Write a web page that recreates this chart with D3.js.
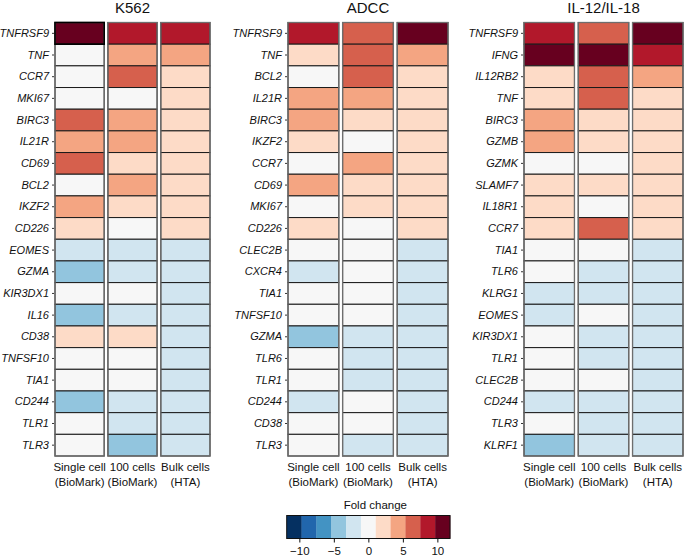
<!DOCTYPE html>
<html><head><meta charset="utf-8">
<script src="https://cdn.jsdelivr.net/npm/d3@7"></script>
<style>body{margin:0;background:#fff}svg{display:block}text{font-family:"Liberation Sans",Arial,sans-serif}</style>
</head><body><svg id="c" width="685" height="557"></svg>
<script>
// ---- data ----
const conditions = ["Single cell (BioMark)", "100 cells (BioMark)", "Bulk cells (HTA)"];
const conditionLines = [["Single cell", "(BioMark)"], ["100 cells", "(BioMark)"], ["Bulk cells", "(HTA)"]];
const panelTitles = ["K562", "ADCC", "IL-12/IL-18"];

const k562Genes = ["TNFRSF9","TNF","CCR7","MKI67","BIRC3","IL21R","CD69","BCL2","IKZF2","CD226","EOMES","GZMA","KIR3DX1","IL16","CD38","TNFSF10","TIA1","CD244","TLR1","TLR3"];
const k562Single = [10.9,0.2,0.1,0.1,6.4,4.4,6.5,0.1,4.3,2.2,-2.1,-4.3,0.1,-4.4,2.1,0.1,0.1,-4.3,0.1,0.1];
const k562Hundred = [8.7,4.3,6.4,0.1,4.4,4.3,2.2,4.3,2.1,0.1,-2.1,-2.2,0.1,-2.0,2.1,0.1,0.1,-2.1,-2.2,-4.3];
const k562Bulk = [8.6,4.4,2.1,2.2,2.2,2.1,2.2,2.1,2.2,2.1,-2.2,-2.1,-2.1,-2.2,-2.1,-2.2,-2.1,-2.2,-2.1,-2.2];

const adccGenes = ["TNFRSF9","TNF","BCL2","IL21R","BIRC3","IKZF2","CCR7","CD69","MKI67","CD226","CLEC2B","CXCR4","TIA1","TNFSF10","GZMA","TLR6","TLR1","CD244","CD38","TLR3"];
const adccSingle = [8.7,2.2,0.1,4.3,4.4,2.1,0.1,4.3,0.1,2.2,0.1,-2.1,0.1,0.1,-4.3,0.1,0.1,-2.1,0.1,0.1];
const adccHundred = [6.5,6.4,6.4,4.3,2.2,0.1,4.4,2.1,2.2,0.1,0.1,0.1,0.1,0.1,-2.2,-2.1,-2.2,0.1,0.1,-2.1];
const adccBulk = [10.9,4.3,2.2,2.1,2.2,2.1,2.2,2.1,2.2,2.1,-2.2,-2.1,-2.2,-2.1,-2.2,-2.1,-2.2,-2.1,-2.2,-2.1];

const ilGenes = ["TNFRSF9","IFNG","IL12RB2","TNF","BIRC3","GZMB","GZMK","SLAMF7","IL18R1","CCR7","TIA1","TLR6","KLRG1","EOMES","KIR3DX1","TLR1","CLEC2B","CD244","TLR3","KLRF1"];
const ilSingle = [8.6,10.9,2.2,2.1,4.3,4.4,0.1,2.2,2.1,2.2,0.1,0.1,-2.1,-2.2,0.1,0.1,0.1,-2.1,0.1,-4.3];
const ilHundred = [6.4,11.0,6.5,6.4,2.2,2.1,0.1,2.2,0.1,6.5,0.1,-2.1,-2.2,0.1,-2.1,-2.2,0.1,-2.1,-2.2,-2.1];
const ilBulk = [10.8,8.7,4.3,2.2,2.1,2.2,2.1,2.2,2.1,2.2,-2.1,-2.2,-2.1,-2.2,-2.1,-2.2,-2.1,-2.2,-2.1,-2.2];

const colorTicks = [-10, -5, 0, 5, 10];
const colorDomain = [-11.83, 11.83];
const colorRange = ["#053061","#2166ac","#4393c3","#92c5de","#d1e5f0","#f7f7f7","#fddbc7","#f4a582","#d6604d","#b2182b","#67001f"];

// ---- build ----
const panels = [
  {title: panelTitles[0], genes: k562Genes, series: [k562Single, k562Hundred, k562Bulk], x0: 55, w: 155, highlight: [0, 0]},
  {title: panelTitles[1], genes: adccGenes, series: [adccSingle, adccHundred, adccBulk], x0: 288, w: 160},
  {title: panelTitles[2], genes: ilGenes, series: [ilSingle, ilHundred, ilBulk], x0: 524, w: 159}
];
const gridTop = 22.5, gridBottom = 456;
const color = d3.scaleQuantize().domain(colorDomain).range(colorRange);
const svg = d3.select("#c");

panels.forEach(p => {
  const g = svg.append("g");
  const x = d3.scaleBand().domain(conditions).range([p.x0, p.x0 + p.w]).paddingInner(0.07);
  const y = d3.scaleBand().domain(p.genes).range([gridTop, gridBottom]);

  g.append("text").attr("x", p.x0 + p.w / 2).attr("y", 13).attr("text-anchor", "middle")
    .attr("font-size", 15).attr("fill", "#111").text(p.title);

  const cells = [];
  p.series.forEach((s, ci) => s.forEach((v, ri) => cells.push({c: conditions[ci], g: p.genes[ri], v, ci, ri})));
  g.selectAll("rect.cell").data(cells).join("rect").attr("class", "cell")
    .attr("x", d => x(d.c)).attr("y", d => y(d.g))
    .attr("width", x.bandwidth()).attr("height", y.bandwidth())
    .attr("fill", d => color(d.v)).attr("stroke", "#1a1a1a").attr("stroke-width", 1);

  g.selectAll("rect.col").data(conditions).join("rect").attr("class", "col")
    .attr("x", d => x(d)).attr("y", gridTop).attr("width", x.bandwidth()).attr("height", gridBottom - gridTop)
    .attr("fill", "none").attr("stroke", "#6e6e6e").attr("stroke-width", 1.3);

  if (p.highlight) {
    g.append("rect").attr("x", x(conditions[p.highlight[0]])).attr("y", y(p.genes[p.highlight[1]]))
      .attr("width", x.bandwidth()).attr("height", y.bandwidth())
      .attr("fill", "none").attr("stroke", "#000").attr("stroke-width", 1.6);
  }

  const ax = g.append("g").attr("transform", `translate(${p.x0 - 1},0)`)
    .call(d3.axisLeft(y).tickSize(2).tickPadding(3));
  ax.select(".domain").remove();
  ax.selectAll(".tick line").attr("stroke", "#333");
  ax.selectAll(".tick text").attr("font-size", 11).attr("font-style", "italic")
    .attr("font-family", "'Liberation Sans', Arial, sans-serif").attr("fill", "#111");

  const lab = g.selectAll("text.cond").data(conditions).join("text").attr("class", "cond")
    .attr("text-anchor", "middle").attr("font-size", 11.5).attr("fill", "#111");
  lab.each(function(d, i) {
    const t = d3.select(this);
    conditionLines[i].forEach((line, li) => {
      t.append("tspan").attr("x", x(d) + x.bandwidth() / 2).attr("y", 471 + li * 15).text(line);
    });
  });
});

// ---- colour bar ----
const cb = svg.append("g");
const cx = d3.scaleLinear().domain(colorDomain).range([286.7, 450]);
const cbTop = 515.5, cbH = 23;
const bins = colorRange.map(c => { const e = color.invertExtent(c); return {c, a: e[0], b: e[1]}; });
cb.selectAll("rect.bin").data(bins).join("rect").attr("class", "bin")
  .attr("x", d => cx(d.a)).attr("y", cbTop).attr("width", d => cx(d.b) - cx(d.a) + 0.3).attr("height", cbH)
  .attr("fill", d => d.c);
cb.append("rect").attr("x", cx(colorDomain[0])).attr("y", cbTop)
  .attr("width", cx(colorDomain[1]) - cx(colorDomain[0])).attr("height", cbH)
  .attr("fill", "none").attr("stroke", "#111").attr("stroke-width", 1);
cb.append("text").attr("x", (cx.range()[0] + cx.range()[1]) / 2 + 7).attr("y", 509)
  .attr("text-anchor", "middle").attr("font-size", 11.5).attr("fill", "#111").text("Fold change");
const cax = cb.append("g").attr("transform", `translate(0,${cbTop + cbH})`)
  .call(d3.axisBottom(cx).tickValues(colorTicks).tickSize(4).tickPadding(4).tickFormat(d3.format("")));
cax.select(".domain").remove();
cax.selectAll(".tick line").attr("stroke", "#111");
cax.selectAll(".tick text").attr("font-size", 11.5).attr("fill", "#111")
  .attr("font-family", "'Liberation Sans', Arial, sans-serif");
</script></body></html>
